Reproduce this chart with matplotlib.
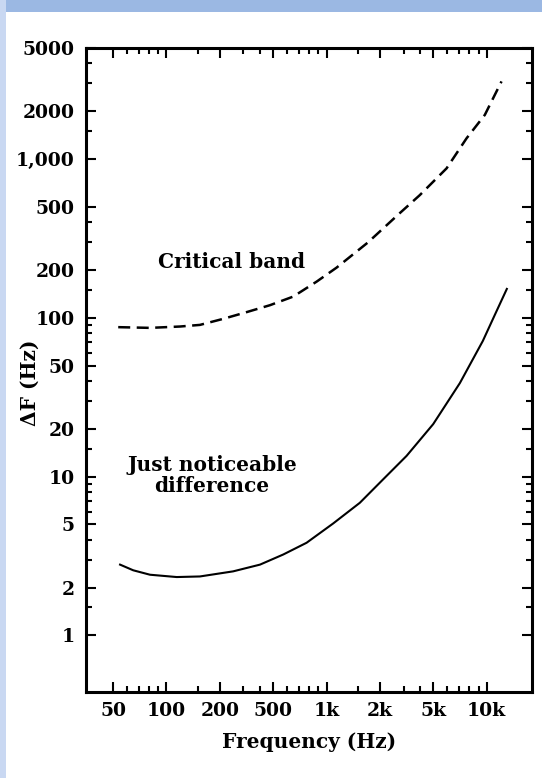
import numpy as np
import matplotlib.pyplot as plt
from matplotlib.patches import Rectangle
from matplotlib.ticker import FixedLocator, FixedFormatter

# frequency axis: the labelled values are spaced evenly on the original chart
x_anchor = [20, 50, 100, 200, 500, 1000, 2000, 5000, 10000, 20000]
x_ticks = [50, 100, 200, 500, 1000, 2000, 5000, 10000]
x_labels = ["50", "100", "200", "500", "1k", "2k", "5k", "10k"]
x_minor = [60, 70, 80, 90, 150, 300, 400, 600, 700, 800, 900,
           1500, 3000, 4000, 6000, 7000, 8000, 9000]

y_ticks = [1, 2, 5, 10, 20, 50, 100, 200, 500, 1000, 2000, 5000]
y_labels = ["1", "2", "5", "10", "20", "50", "100", "200", "500",
            "1,000", "2000", "5000"]
y_minor = [1.5, 3, 4, 6, 7, 8, 9, 15, 30, 40, 60, 70, 80, 90,
           150, 300, 400, 1500, 3000, 4000]

# critical band (dashed)
cb_freq = [53.5, 80.8, 119.3, 154.6, 212.3, 317.6, 473, 649, 880, 1140,
           1711, 2822, 3966, 5944, 7706, 9767, 12133]
cb_df = [87.3, 86.4, 88.1, 90.2, 98.5, 108.6, 120, 136, 169, 207,
         298, 457, 592, 873, 1350, 1895, 3080]

# just noticeable difference (solid)
jnd_freq = [54.8, 65.0, 80.8, 114.3, 154.6, 251.5, 399, 570, 772, 1091,
            1542, 2116, 3162, 4995, 7064, 9520, 11126, 13000]
jnd_df = [2.79, 2.57, 2.41, 2.33, 2.35, 2.53, 2.79, 3.23, 3.83, 5.07,
          6.84, 9.61, 13.5, 21.4, 38.8, 71.5, 104.4, 152]

log_anchor = np.log10(x_anchor)
idx_anchor = np.arange(len(x_anchor), dtype=float) - 1


def fwd(f):
    f = np.clip(np.asarray(f, dtype=float), 1e-3, None)
    return np.interp(np.log10(f), log_anchor, idx_anchor)


def inv(p):
    return 10 ** np.interp(np.asarray(p, dtype=float), idx_anchor, log_anchor)


def main():
    W, H = 542, 778
    fig = plt.figure(figsize=(W / 100, H / 100), dpi=100)
    fig.patch.set_facecolor("white")

    # blue frame of the screenshot
    fig.patches.append(Rectangle((0, 1 - 12 / H), 1, 12 / H, transform=fig.transFigure,
                                 facecolor="#9bb8e3", edgecolor="none", zorder=0))
    fig.patches.append(Rectangle((0, 0), 6 / W, 1, transform=fig.transFigure,
                                 facecolor="#c9d8f2", edgecolor="none", zorder=0))

    ax = fig.add_axes([86 / W, 1 - 692 / H, (532 - 86) / W, (692 - 48) / H])
    ax.set_xscale("function", functions=(fwd, inv))
    ax.set_yscale("log")
    ax.set_xlim(inv(-0.506), inv(7.85))
    ax.set_ylim(0.44, 5000)

    ax.plot(cb_freq, cb_df, color="black", lw=1.8, dashes=(4.8, 2.6))
    ax.plot(jnd_freq, jnd_df, color="black", lw=1.5)

    font = dict(family="DejaVu Serif", fontweight="bold")
    ax.xaxis.set_major_locator(FixedLocator(x_ticks))
    ax.xaxis.set_major_formatter(FixedFormatter(x_labels))
    ax.xaxis.set_minor_locator(FixedLocator(x_minor))
    ax.yaxis.set_major_locator(FixedLocator(y_ticks))
    ax.yaxis.set_major_formatter(FixedFormatter(y_labels))
    ax.yaxis.set_minor_locator(FixedLocator(y_minor))
    ax.xaxis.set_minor_formatter(FixedFormatter([""] * len(x_minor)))
    ax.yaxis.set_minor_formatter(FixedFormatter([""] * len(y_minor)))

    ax.tick_params(which="both", direction="in", top=True, right=True, width=1.5)
    ax.tick_params(which="major", length=7)
    ax.tick_params(which="minor", length=4)
    ax.tick_params(axis="x", which="major", pad=7.5, labelsize=13.5)
    ax.tick_params(axis="y", which="major", pad=8, labelsize=13.5)
    for lab in ax.get_xticklabels() + ax.get_yticklabels():
        lab.set_family("DejaVu Serif")
        lab.set_fontweight("bold")
    for s in ax.spines.values():
        s.set_linewidth(2.2)

    ax.set_xlabel("Frequency (Hz)", fontsize=14.5, **font)
    ax.set_ylabel("ΔF (Hz)", fontsize=14.5, **font)
    ax.xaxis.set_label_coords(0.5, -(742 - 692) / 644, transform=ax.transAxes)
    ax.yaxis.set_label_coords(-(86 - 30) / 446, 1 - (383 - 48) / 644, transform=ax.transAxes)
    ax.xaxis.label.set_va("center")
    ax.yaxis.label.set_va("center")

    ax.text(inv(2.228), 225, "Critical band", ha="center", va="center", fontsize=14.5, **font)
    ax.text(inv(1.854), 10.1, "Just noticeable\ndifference", ha="center", va="center",
            fontsize=14.5, linespacing=1.05, **font)

    fig.savefig("out.png", dpi=100)
    plt.close(fig)


if __name__ == "__main__":
    main()
